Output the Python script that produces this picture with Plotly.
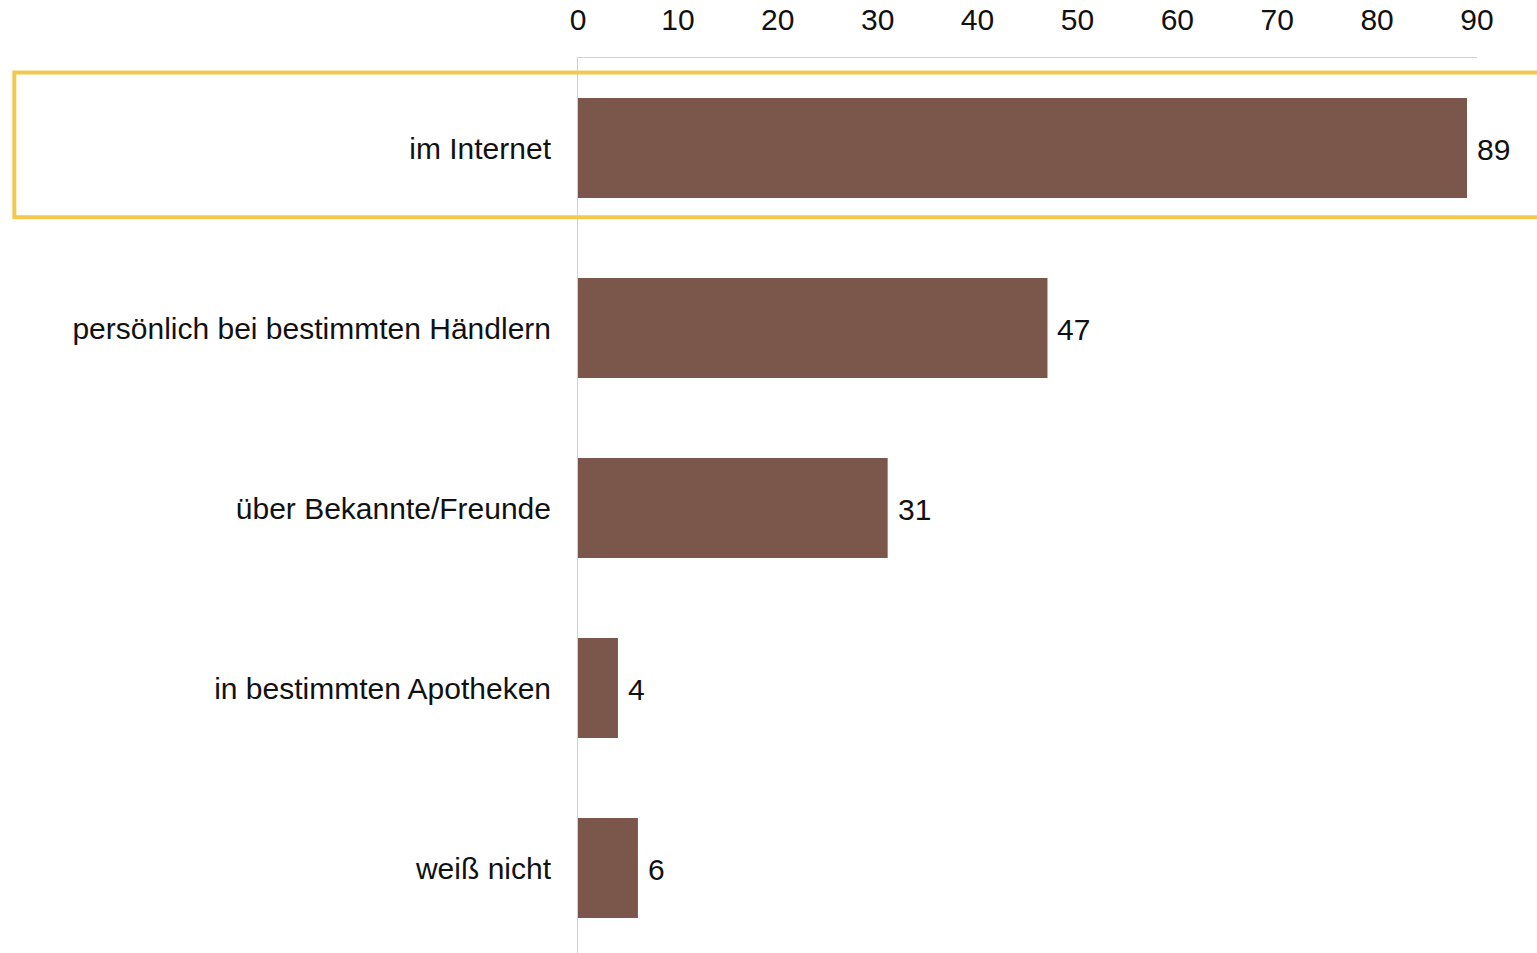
import plotly.graph_objects as go

# Where people obtain the product (share in %)
categories = [
    "im Internet",
    "persönlich bei bestimmten Händlern",
    "über Bekannte/Freunde",
    "in bestimmten Apotheken",
    "weiß nicht",
]
values = [89, 47, 31, 4, 6]
tick_values = [0, 10, 20, 30, 40, 50, 60, 70, 80, 90]
highlight = "im Internet"

BAR_COLOR = "#7B574B"
AXIS_COLOR = "#D8CEC6"
HIGHLIGHT_COLOR = "#F2C94E"
FONT = "Liberation Sans, Arial, sans-serif"
FONT_SIZE = 30

fig = go.Figure(
    go.Bar(
        y=categories,
        x=values,
        orientation="h",
        marker=dict(color=BAR_COLOR, line=dict(width=0)),
        hoverinfo="skip",
    )
)

# value labels to the right of each bar
for cat, val in zip(categories, values):
    fig.add_annotation(
        x=val, y=cat, xref="x", yref="y",
        text=str(val), showarrow=False,
        xanchor="left", yanchor="middle", xshift=8, yshift=-1,
        font=dict(family=FONT, size=FONT_SIZE, color="#111111"),
    )

# frame around the highlighted category
hi = categories.index(highlight)
fig.add_shape(
    type="rect", xref="paper", yref="y",
    x0=-0.627, x1=1.09, y0=hi - 0.42, y1=hi + 0.385,
    line=dict(color=HIGHLIGHT_COLOR, width=4),
    fillcolor="rgba(0,0,0,0)", layer="above",
)

fig.update_layout(
    width=1537, height=953,
    margin=dict(l=578, r=60, t=58, b=0),
    paper_bgcolor="white", plot_bgcolor="white",
    bargap=0.444,
    showlegend=False,
    font=dict(family=FONT, size=FONT_SIZE, color="#111111"),
    xaxis=dict(
        side="top", range=[0, 90], tickvals=tick_values,
        showgrid=False, zeroline=False,
        showline=True, linecolor=AXIS_COLOR, linewidth=1,
        ticks="", ticklabelstandoff=15,
        tickfont=dict(family=FONT, size=FONT_SIZE, color="#111111"),
        fixedrange=True,
    ),
    yaxis=dict(
        categoryorder="array", categoryarray=categories,
        range=[4.4722, -0.5],
        showgrid=False, zeroline=False,
        showline=True, linecolor=AXIS_COLOR, linewidth=1,
        ticks="", ticklabelstandoff=20,
        tickfont=dict(family=FONT, size=FONT_SIZE, color="#111111"),
        fixedrange=True,
    ),
)

fig.write_html("out.html")
